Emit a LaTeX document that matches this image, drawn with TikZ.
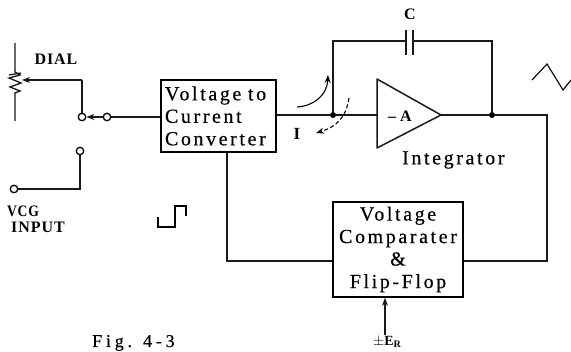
\documentclass[tikz,border=0pt]{standalone}
\usepackage{fontspec}
\setmainfont{Liberation Serif}
\newfontfamily\spaced[LetterSpace=13,FakeBold=0.5]{Liberation Serif}
\newfontfamily\wider[LetterSpace=21,FakeBold=0.5]{Liberation Serif}
\newfontfamily\capsfont[LetterSpace=6]{Liberation Serif}
\usetikzlibrary{arrows.meta,shapes.geometric}
\tikzset{
  wire/.style={draw=black!90,line width=1.3pt},
  tip/.style={-{Stealth[length=8pt,width=6pt]}},
  blockbox/.style={draw=black,line width=1.6pt,inner sep=0pt,align=center,font=\spaced\fontsize{20}{22.5}\selectfont},
  term/.style={circle,draw=black,line width=1.3pt,fill=white,minimum size=7.5pt,inner sep=0pt},
  junction/.style={circle,fill=black,minimum size=6pt,inner sep=0pt},
  lab/.style={inner sep=0pt,font=\spaced\fontsize{20}{20}\selectfont},
  smalllab/.style={inner sep=0pt,font=\capsfont\bfseries\fontsize{16}{16}\selectfont},
}
\begin{document}
\begin{tikzpicture}[x=1pt,y=-1pt]
\useasboundingbox (0,0) rectangle (571,352);
% blocks
\node[blockbox,align=left,text width=107pt,minimum width=115pt,minimum height=72pt] (vcc) at (218.5,116) {Voltage to\\Current\\Converter};
\node[blockbox,minimum width=130pt,minimum height=95pt] (cmp) at (398,249.5) {Voltage\\Comparater\\\&\\Flip-Flop};
% amplifier
\coordinate (a1) at (377,79); \coordinate (a2) at (377,148); \coordinate (a3) at (441,115);
\draw[wire,line width=1.5pt,line join=round] (a1) -- (a3) -- (a2) -- cycle;
\coordinate (ain) at (377,115);
% terminals and junctions
\node[term] (sw1) at (82,117) {};
\node[term] (sw2) at (107,117) {};
\node[term] (sw3) at (80,151) {};
\node[term] (vcg) at (14,189) {};
\node[junction] (j1) at (333,115) {};
\node[junction] (j2) at (492,115) {};
\coordinate (wipe) at (82,80);
\coordinate (wtip) at (22,80);
\coordinate (c1) at (406,41);
\coordinate (c2) at (413,41);
\coordinate (tl) at (333,41);
\coordinate (tr) at (492,41);
\coordinate (br) at (547,115);
\coordinate (brd) at (547,261);
\coordinate (bl) at (227,261);
\coordinate (er) at (385,335);
% wires
\draw[wire] (sw1) -- (wipe);
\draw[wire,tip] (wipe) -- (wtip);
\draw[wire,tip] (sw2) -- (sw1);
\draw[wire] (sw2) -- (sw2-|vcc.west);
\draw[wire] (sw3) -- (80,189) -- (vcg);
\draw[wire] (vcc.east|-j1) -- (j1) -- (ain);
\draw[wire] (a3) -- (j2) -- (br) -- (brd) -- (brd-|cmp.east);
\draw[wire] (vcc.south-|bl) -- (bl) -- (bl-|cmp.west);
\draw[wire] (j1) -- (tl) -- (c1);
\draw[wire] (c2) -- (tr) -- (j2);
\draw[wire,tip] (er) -- (er|-cmp.south);
% capacitor plates
\draw[wire,line width=1.5pt] (406,30) -- (406,55) (413,30) -- (413,55);
% potentiometer
\draw[wire] (15,43) -- (15,72) -- (20,75) -- (9,78) -- (21,83) -- (10,87) -- (20,91) -- (15,93) -- (15,121);
\draw[wire] (9,75) -- (21,73);
% current arrows
\draw[line width=1.1pt,tip] (297,107) .. controls (313,106) and (327,96) .. (328,75);
\draw[line width=1.1pt,dashed,dash pattern=on 4pt off 2.5pt,tip] (349,98) .. controls (346,118) and (336,127) .. (316,133);
% waveforms
\draw[line width=1.3pt] (158,217) -- (158,227) -- (175,227) -- (175,206) -- (186,206) -- (186,216);
\draw[line width=1.1pt] (532,80) -- (547,64) -- (563,90) -- (571,80);
% labels
\node[smalllab] (dial) at (56,59) {DIAL};
\node[smalllab,xscale=.85] (vcgl) at (23,211) {VCG};
\node[smalllab,anchor=west] (inp) at (11,227) {INPUT};
\node[lab,font=\bfseries\fontsize{16}{16}\selectfont] (cl) at (410,14) {C};
\node[lab,font=\bfseries\fontsize{17}{16}\selectfont] (il) at (297,134) {I};
\node[lab,font=\bfseries\fontsize{16}{16}\selectfont] (al) at (400,116) {– A};
\node[lab,anchor=west] (intg) at (402,160) {Integrator};
\node[inner sep=0pt,font=\wider\fontsize{18}{18}\selectfont,anchor=base west] (fig) at (92,347) {Fig. 4-3};
\node[inner sep=0pt,font=\bfseries\fontsize{14}{14}\selectfont,anchor=base] (erl) at (387,346) {$\pm$E\raisebox{-1.5pt}{\fontsize{10}{10}\selectfont R}};
\end{tikzpicture}
\end{document}
